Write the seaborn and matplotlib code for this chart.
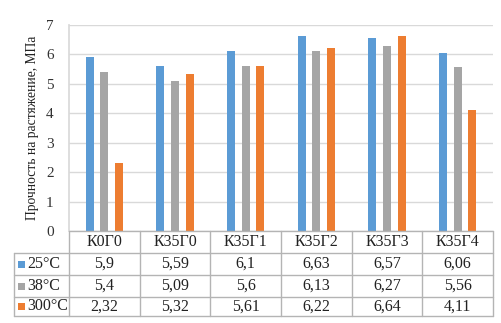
import matplotlib
matplotlib.use("Agg")
import matplotlib.pyplot as plt
import seaborn as sns
import pandas as pd
from matplotlib.lines import Line2D
from matplotlib.patches import Rectangle

# Samples and tensile strength (MPa) at three temperatures
samples = ["К0Г0", "К35Г0", "К35Г1", "К35Г2", "К35Г3", "К35Г4"]
series_names = ["25°C", "38°C", "300°C"]
s25 = [5.9, 5.59, 6.1, 6.63, 6.57, 6.06]
s38 = [5.4, 5.09, 5.6, 6.13, 6.27, 5.56]
s300 = [2.32, 5.32, 5.61, 6.22, 6.64, 4.11]
colors = ["#5b9bd5", "#a5a5a5", "#ed7d31"]
y_ticks = [0, 1, 2, 3, 4, 5, 6, 7]
y_label = "Прочность на растяжение, МПа"

values = [s25, s38, s300]
df = pd.DataFrame({
    "sample": samples * 3,
    "temp": [n for n in series_names for _ in samples],
    "value": s25 + s38 + s300,
})

sns.set_theme(style="white")
plt.rcParams["font.family"] = ["Liberation Serif", "DejaVu Serif"]

W, H = 502, 323
fig = plt.figure(figsize=(W / 100, H / 100), dpi=100)
L, R, T, B = 69, 493, 25, 231
ax = fig.add_axes([L / W, 1 - B / H, (R - L) / W, (B - T) / H])

sns.barplot(data=df, x="sample", y="value", hue="temp", order=samples,
            hue_order=series_names, palette=colors, width=0.62,
            saturation=1, ax=ax, legend=False)

# Narrow the bars, keeping them centred in their slots
for bar in ax.patches:
    cx = bar.get_x() + bar.get_width() / 2
    w = 0.115
    bar.set_x(cx - w / 2)
    bar.set_width(w)
    bar.set_edgecolor("none")

ax.set_xlim(-0.5, len(samples) - 0.5)
ax.set_ylim(0, 7)
ax.set_yticks(y_ticks)
ax.set_yticklabels([str(t) for t in y_ticks], fontsize=11, color="#333333")
ax.tick_params(axis="y", length=0, pad=11)
ax.set_xticks([])
ax.set_xlabel("")
ax.set_ylabel(y_label, fontsize=9.8, color="#222222")
ax.yaxis.set_label_coords((39 - L) / (R - L), 0.5)
ax.yaxis.grid(True, color="#d9d9d9", linewidth=1)
ax.set_axisbelow(True)
for side in ["top", "right"]:
    ax.spines[side].set_visible(False)
ax.spines["left"].set_color("#d9d9d9")
ax.spines["bottom"].set_visible(False)

# Data table under the plot, drawn in pixel coordinates of the figure
def fx(px):
    return px / W

def fy(py):
    return 1 - py / H

line_c = "#b4b4b4"
rows_y = [231, 253, 275, 297, 316]
col_w = (R - L) / len(samples)
col_x = [L + i * col_w for i in range(len(samples) + 1)]
left_x = 14

def hline(x0, x1, y):
    fig.add_artist(Line2D([fx(x0), fx(x1)], [fy(y), fy(y)], color=line_c, lw=1))

def vline(x, y0, y1):
    fig.add_artist(Line2D([fx(x), fx(x)], [fy(y0), fy(y1)], color=line_c, lw=1))

hline(L, R, rows_y[0])
for y in rows_y[1:]:
    hline(left_x, R, y)
for x in col_x:
    vline(x, rows_y[0], rows_y[-1])
vline(left_x, rows_y[1], rows_y[-1])

txt_kw = dict(fontsize=11.5, color="#222222", va="center")
for i, s in enumerate(samples):
    cx = (col_x[i] + col_x[i + 1]) / 2
    fig.text(fx(cx), fy((rows_y[0] + rows_y[1]) / 2), s, ha="center", **txt_kw)

for r, (name, vals, c) in enumerate(zip(series_names, values, colors)):
    cy = (rows_y[r + 1] + rows_y[r + 2]) / 2
    fig.add_artist(Rectangle((fx(18), fy(cy + 3.5)), 7 / W, 7 / H,
                             facecolor=c, edgecolor="none"))
    fig.text(fx(27), fy(cy), name, ha="left", **txt_kw)
    for i, v in enumerate(vals):
        cx = (col_x[i] + col_x[i + 1]) / 2
        fig.text(fx(cx), fy(cy), f"{v:g}".replace(".", ","), ha="center", **txt_kw)

fig.savefig("out.png", dpi=100)
